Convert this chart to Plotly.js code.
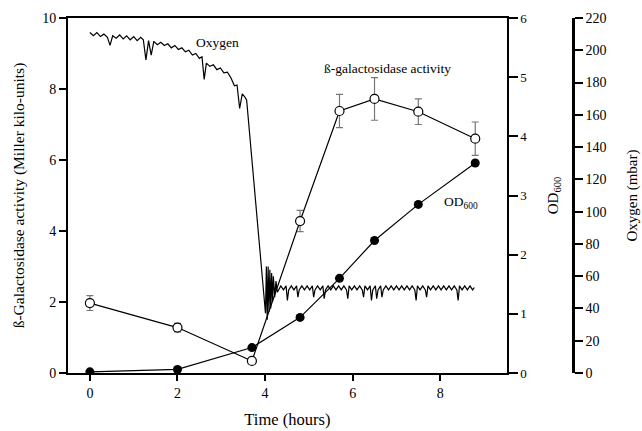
<!DOCTYPE html>
<html>
<head>
<meta charset="utf-8">
<script src="https://cdn.plot.ly/plotly-3.0.1.min.js"></script>
<style>html,body{margin:0;padding:0;background:#fff;}#chart{width:642px;height:431px;}</style>
</head>
<body>
<div id="chart"></div>
<script>
// Sampling times (hours)
const sampleTimes = [0, 2, 3.7, 4.8, 5.7, 6.5, 7.5, 8.8];
// beta-galactosidase activity (Miller kilo-units)
const bgalActivity = [1.97, 1.28, 0.34, 4.28, 7.38, 7.72, 7.36, 6.6];
const bgalError = [0.21, 0.12, 0.04, 0.3, 0.47, 0.6, 0.36, 0.47];
// OD600
const od600 = [0.02, 0.06, 0.43, 0.94, 1.6, 2.24, 2.85, 3.55];

// Oxygen trace (mbar)
const oxygenTime = [
  0.00,0.08,0.16,0.24,0.32,0.40,0.46,0.52,0.60,0.68,0.76,0.84,0.92,1.00,1.08,1.16,1.22,1.28,1.34,1.40,
  1.46,1.54,1.62,1.70,1.78,1.86,1.94,2.02,2.10,2.18,2.26,2.34,2.42,2.50,2.56,2.61,2.66,2.74,2.82,2.90,
  2.98,3.06,3.14,3.22,3.30,3.36,3.42,3.48,3.54,3.58,4.01,
  4.03,4.05,4.07,4.09,4.11,4.13,4.15,4.17,4.19,4.22,4.25,4.28,4.32,
  4.36,4.42,4.48,4.51,4.54,4.60,4.66,4.72,4.75,4.78,4.84,4.90,4.96,5.02,5.08,5.11,5.14,5.20,5.26,5.32,5.35,5.38,
  5.44,5.50,5.56,5.62,5.68,5.74,5.80,5.86,5.89,5.92,5.98,6.04,6.10,6.16,6.22,6.25,6.28,6.34,6.40,6.43,6.46,
  6.52,6.55,6.58,6.64,6.67,6.70,6.76,6.82,6.88,6.94,7.00,7.06,7.12,7.18,7.24,7.30,7.36,7.42,7.45,7.48,
  7.54,7.60,7.66,7.69,7.72,7.78,7.84,7.90,7.96,8.02,8.08,8.14,8.20,8.26,8.32,8.38,8.41,8.44,8.50,8.56,
  8.62,8.68,8.74,8.78
];
const oxygenValue = [
  211,209,211,208.5,210,208,203,209,207.5,209.5,207,209,206.5,208.5,206,208,206.5,194,206,197,
  205.5,203.5,205,203,204,201.5,203,200.5,201.5,199,200,197,198,195,196,182,192,190,191,188,
  189,186,186.5,183,178,178.5,164,173,171,169,37,
  66,33,66,38,64,40,62,44,60,47,57,50,52,
  54,51.5,54,45,51.5,54,51.5,54,47,51.5,54,51.5,54,51.5,54,47,51.5,54,51.5,54,46,51.5,
  54,51.5,54,51.5,54,51.5,54,51.5,46,54,51.5,54,51.5,54,51.5,47,54,51.5,54,45,51.5,
  54,46,51.5,54,47,51.5,54,51.5,54,51.5,54,51.5,54,51.5,54,51.5,54,51.5,45,54,
  51.5,54,51.5,47,54,51.5,54,51.5,54,51.5,54,51.5,54,51.5,54,51.5,45,54,51.5,54,
  51.5,54,51.5,53
];

// Tick values
const timeTicks = [0, 2, 4, 6, 8];
const bgalTicks = [0, 2, 4, 6, 8, 10];
const odTicks = [0, 1, 2, 3, 4, 5, 6];
const oxygenTicks = [0, 20, 40, 60, 80, 100, 120, 140, 160, 180, 200, 220];

const serif = 'Liberation Serif, Times New Roman, serif';
const f = (size) => ({family: serif, size: size, color: '#000', weight: 'normal'});

const traces = [
  {
    x: oxygenTime, y: oxygenValue, yaxis: 'y3', type: 'scatter', mode: 'lines',
    line: {color: '#000', width: 1.2}, hoverinfo: 'skip'
  },
  {
    x: sampleTimes, y: bgalActivity, type: 'scatter', mode: 'lines+markers',
    line: {color: '#000', width: 1.2},
    marker: {symbol: 'circle', size: 9, color: '#fff', line: {color: '#000', width: 1.2}},
    error_y: {type: 'data', array: bgalError, visible: true, color: '#777', thickness: 1.2, width: 3.5}
  },
  {
    x: sampleTimes, y: od600, yaxis: 'y2', type: 'scatter', mode: 'lines+markers',
    line: {color: '#000', width: 1.2},
    marker: {symbol: 'circle', size: 9, color: '#000'}
  }
];

const axisCommon = {
  showgrid: false, zeroline: false, showline: true, linecolor: '#000', linewidth: 2,
  ticks: 'outside', tickcolor: '#000', tickwidth: 2, automargin: false
};

const layout = {
  width: 642, height: 431,
  margin: {l: 68, r: 20, t: 18, b: 58},
  paper_bgcolor: '#fff', plot_bgcolor: '#fff',
  showlegend: false,
  font: f(14),
  xaxis: Object.assign({}, axisCommon, {
    domain: [0, 0.792], range: [-0.5, 9.52], tickvals: timeTicks, ticklen: 6,
    mirror: true,
    tickfont: f(14),
    title: {text: 'Time (hours)', font: f(16.5), standoff: 14}
  }),
  yaxis: Object.assign({}, axisCommon, {
    range: [0, 10], tickvals: bgalTicks, ticklen: 7,
    tickfont: f(14),
    title: {text: 'ß-Galactosidase activity (Miller kilo-units)', font: f(15.5), standoff: 14}
  }),
  yaxis2: Object.assign({}, axisCommon, {
    overlaying: 'y', side: 'right', anchor: 'x',
    range: [0, 6], tickvals: odTicks, ticklen: 9,
    tickfont: f(13),
    title: {text: 'OD<sub>600</sub>', font: f(15), standoff: 21}
  }),
  yaxis3: Object.assign({}, axisCommon, {
    overlaying: 'y', side: 'right', anchor: 'free', position: 0.912,
    range: [0, 220], tickvals: oxygenTicks, ticklen: 8, linewidth: 2.5,
    tickfont: f(14),
    title: {text: 'Oxygen (mbar)', font: f(15), standoff: 20}
  }),
  annotations: [
    {x: 2.91, y: 9.3, xref: 'x', yref: 'y', text: 'Oxygen', showarrow: false, font: f(13.5)},
    {x: 6.8, y: 8.59, xref: 'x', yref: 'y', text: 'ß-galactosidase activity', showarrow: false, font: f(13.5)},
    {x: 8.48, y: 4.79, xref: 'x', yref: 'y', text: 'OD<sub>600</sub>', showarrow: false, font: f(13.5)}
  ]
};

Plotly.newPlot('chart', traces, layout, {staticPlot: true, displayModeBar: false});
</script>
</body>
</html>
